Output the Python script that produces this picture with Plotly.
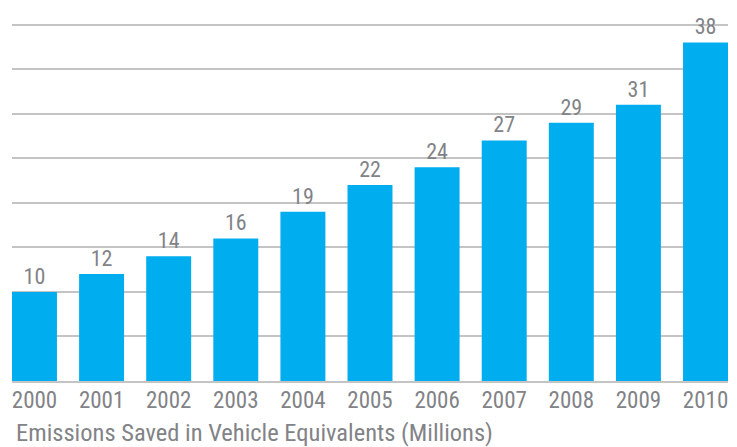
import plotly.graph_objects as go

# Vehicle-equivalent emissions saved, by year (millions)
years = ["2000", "2001", "2002", "2003", "2004", "2005",
         "2006", "2007", "2008", "2009", "2010"]
saved = [10, 12, 14, 16, 19, 22, 24, 27, 29, 31, 38]
axis_title = "Emissions Saved in Vehicle Equivalents (Millions)"

BAR = "#00ADEE"
TEXT = "#828387"
GRID = "#C4C4C4"
FONT = "Roboto Condensed, Liberation Sans Narrow, Roboto, sans-serif"
bar_w = 0.67

fig = go.Figure(
    go.Bar(
        x=list(range(len(years))),
        y=saved,
        width=bar_w,
        marker=dict(color=BAR, line=dict(width=0)),
        text=[str(v) for v in saved],
        textposition="outside",
        textfont=dict(family=FONT, size=22, color=TEXT),
        cliponaxis=False,
        hoverinfo="skip",
    )
)

fig.update_layout(
    width=737,
    height=447,
    margin=dict(l=12, r=9, t=22, b=66),
    paper_bgcolor="white",
    plot_bgcolor="white",
    showlegend=False,
    font=dict(family=FONT, color=TEXT),
    xaxis=dict(
        tickmode="array",
        tickvals=list(range(len(years))),
        ticktext=years,
        range=[-bar_w / 2, len(years) - 1 + bar_w / 2],
        showgrid=False,
        zeroline=False,
        showline=True,
        linecolor=GRID,
        linewidth=2,
        ticks="",
        ticklabelstandoff=-3,
        tickfont=dict(family=FONT, size=23, color=TEXT),
        fixedrange=True,
    ),
    yaxis=dict(
        range=[0, 40.3],
        tickmode="array",
        tickvals=[5, 10, 15, 20, 25, 30, 35, 40],
        showgrid=True,
        gridcolor=GRID,
        gridwidth=1.5,
        zeroline=False,
        showticklabels=False,
        ticks="",
        fixedrange=True,
    ),
    annotations=[
        dict(
            text=axis_title,
            xref="paper", yref="paper",
            x=0.003, y=0,
            xanchor="left", yanchor="top",
            yshift=-35,
            showarrow=False,
            font=dict(family=FONT, size=24.5, color=TEXT),
        )
    ],
)

fig.write_html("out.html")
